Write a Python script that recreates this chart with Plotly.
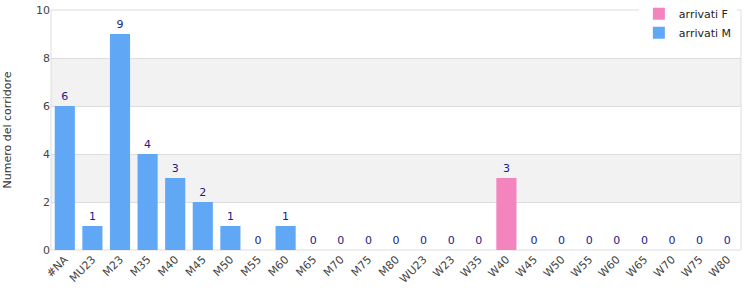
import plotly.graph_objects as go

categories = ["#NA", "MU23", "M23", "M35", "M40", "M45", "M50", "M55", "M60", "M65", "M70", "M75", "M80",
              "WU23", "W23", "W35", "W40", "W45", "W50", "W55", "W60", "W65", "W70", "W75", "W80"]
arrivati_M = [6, 1, 9, 4, 3, 2, 1, 0, 1, 0, 0, 0, 0, None, None, None, None, None, None, None, None, None, None, None, None]
arrivati_F = [None] * 13 + [0, 0, 0, 3, 0, 0, 0, 0, 0, 0, 0, 0]
y_ticks = [0, 2, 4, 6, 8, 10]

font = "DejaVu Sans"
fig = go.Figure()
fig.add_trace(go.Bar(x=categories, y=arrivati_F, name="arrivati F",
                     marker=dict(color="#f484be", line=dict(width=0)),
                     text=[("" if v is None else str(v)) for v in arrivati_F],
                     textposition="outside", cliponaxis=False,
                     textfont=dict(color="#1a1a8a", size=11, family=font)))
fig.add_trace(go.Bar(x=categories, y=arrivati_M, name="arrivati M",
                     marker=dict(color="#60a8f5", line=dict(width=0)),
                     text=[("" if v is None else str(v)) for v in arrivati_M],
                     textposition="outside", cliponaxis=False,
                     textfont=dict(color="#1a1a8a", size=11, family=font)))

shapes = []
for lo in [2, 6]:
    shapes.append(dict(type="rect", xref="paper", yref="y", x0=0, x1=1, y0=lo, y1=lo + 2,
                       fillcolor="#f2f2f2", line=dict(width=0), layer="below"))
shapes.append(dict(type="rect", xref="paper", yref="paper", x0=0, x1=1, y0=0, y1=1,
                   fillcolor="rgba(0,0,0,0)", line=dict(color="#dddddd", width=1), layer="below"))

fig.update_layout(
    width=750, height=300,
    margin=dict(l=51, r=9, t=10, b=50, autoexpand=False),
    plot_bgcolor="white", paper_bgcolor="white",
    barmode="overlay", bargap=0.27,
    font=dict(family=font, size=11, color="#444444"),
    shapes=shapes,
    showlegend=True,
    legend=dict(x=0.994, y=1.045, xanchor="right", yanchor="top",
                bgcolor="white", font=dict(size=11, color="#222222", family=font),
                traceorder="normal", tracegroupgap=0, itemwidth=30),
    xaxis=dict(type="category", categoryorder="array", categoryarray=categories,
               tickangle=-45, showgrid=False, ticks="", showline=False,
               tickfont=dict(size=11, color="#444444")),
    yaxis=dict(range=[0, 10], tickvals=y_ticks, showgrid=True, gridcolor="#dddddd",
               zeroline=False, ticks="", showline=False,
               tickfont=dict(size=11, color="#444444"),
               title=dict(text="Numero del corridore", font=dict(size=11, color="#333333"), standoff=22)),
)
fig.write_html("out.html")
